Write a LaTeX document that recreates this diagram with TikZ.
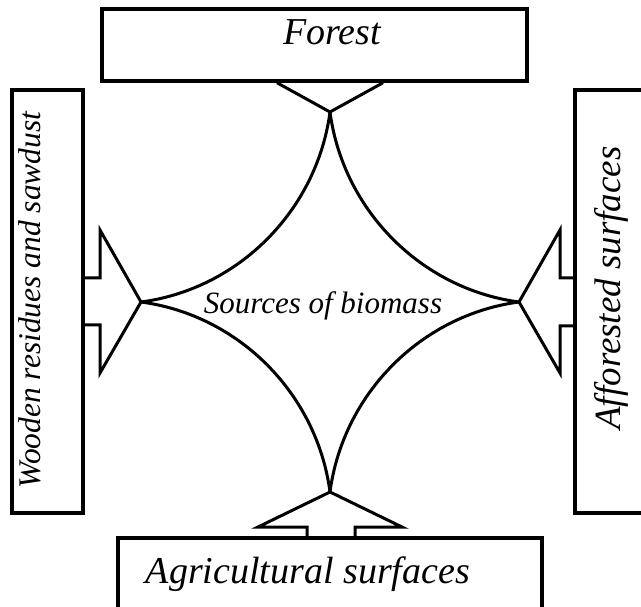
\documentclass[tikz,border=0pt]{standalone}
\usepackage{fontspec}
\setmainfont{Liberation Serif}
\usetikzlibrary{calc,positioning}

\begin{document}
\begin{tikzpicture}[
  x=1pt, y=-1pt,
  srcbox/.style={draw, line width=3.5pt, inner sep=0pt, fill=white},
  lbl/.style={font=\itshape\fontsize{#1}{#1}\selectfont, inner sep=0pt, anchor=base},
  blk/.style={draw, line width=3pt, line join=miter},
  cusp/.style={draw, line width=3pt}
 ]
  \clip (0,0) rectangle (641,607);

  \node [srcbox, minimum width=425pt, minimum height=72pt] (forest) at (314.5,45) {};
  \node [srcbox, minimum width=71pt, minimum height=423pt] (wood) at (47.5,301.5) {};
  \node [srcbox, minimum width=90pt, minimum height=423pt] (affor) at (620,301.5) {};
  \node [srcbox, minimum width=424pt, minimum height=110pt] (agri) at (330,593) {};

  \node [lbl=38] (t-forest) at (332,45) {Forest};
  \node [lbl=31.5, rotate=90] (t-wood) at (41,300) {Wooden residues and sawdust};
  \node [lbl=37, rotate=90] (t-affor) at (620,288) {Afforested surfaces};
  \node [lbl=38] (t-agri) at (308,583) {Agricultural surfaces};
  \node [lbl=31] (t-src) at (323,313) {Sources of biomass};

  \coordinate (ctr) at (330,302);
  \coordinate (tip-t) at ($(ctr)+(0,-190)$);
  \coordinate (tip-b) at ($(ctr)+(0,190)$);
  \coordinate (tip-l) at ($(ctr)+(-189,0)$);
  \coordinate (tip-r) at ($(ctr)+(189,0)$);

  \foreach \sx/\sy/\v/\h in {-1/-1/t/l,1/-1/t/r,-1/1/b/l,1/1/b/r}
   \draw [cusp] (tip-\v) .. controls ($(ctr)+(13*\sx,92*\sy)$) and ($(ctr)+(91*\sx,13*\sy)$) .. (tip-\h);

  \draw [blk] (forest.south -| 277,0) -- (tip-t) -- (forest.south -| 383,0);
  \draw [blk] (wood.east |- 0,278) -- (100,278) -- (100,230) -- (tip-l)
   -- (100,373) -- (100,325) -- (wood.east |- 0,325);
  \draw [blk] (affor.west |- 0,278) -- (560,278) -- (560,230) -- (tip-r)
   -- (560,373) -- (560,326) -- (affor.west |- 0,326);
  \draw [blk] (agri.north -| 307,0) -- (307,527) -- (258,527) -- (tip-b)
   -- (402,527) -- (355,527) -- (agri.north -| 355,0);
\end{tikzpicture}
\end{document}
